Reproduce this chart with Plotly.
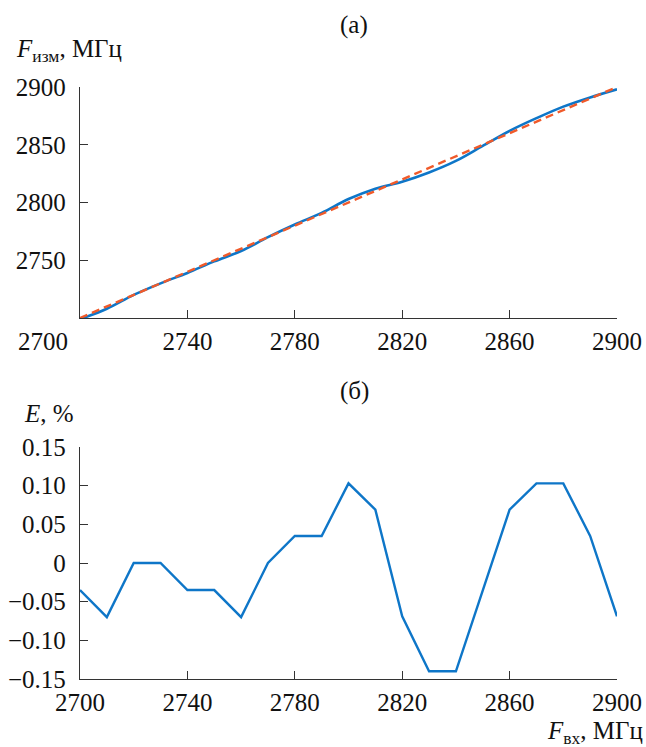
import plotly.graph_objects as go

# ---- data ----
f_in = [2700, 2710, 2720, 2730, 2740, 2750, 2760, 2770, 2780, 2790, 2800,
        2810, 2820, 2830, 2840, 2850, 2860, 2870, 2880, 2890, 2900]
f_meas = [2699, 2708, 2720, 2730, 2739, 2749, 2758, 2770, 2781, 2791, 2803,
          2812, 2818, 2826, 2836, 2849, 2862, 2873, 2883, 2891, 2898]
f_ideal = [2700, 2900]
f_ideal_x = [2700, 2900]
err = [-0.035, -0.07, 0.0, 0.0, -0.035, -0.035, -0.07, 0.0, 0.035, 0.035, 0.103,
       0.069, -0.069, -0.14, -0.14, -0.035, 0.069, 0.103, 0.103, 0.035, -0.069]

x_ticks = [2700, 2740, 2780, 2820, 2860, 2900]
y1_ticks = [2750, 2800, 2850, 2900]
y2_ticks = [0.15, 0.10, 0.05, 0, -0.05, -0.10, -0.15]
y2_text = ["0.15", "0.10", "0.05", "0", "\u22120.05", "\u22120.10", "\u22120.15"]

BLUE = "#0E76C8"
RED = "#F05A2A"
AX = "#333333"
FONT = "Liberation Serif"
FS = 25

W, H = 646, 747
L, T = 80, 87
PW, PH = 537, 592
R, B = W - L - PW, H - T - PH


def px(xp):
    return (xp - L) / PW


def py(yp):
    return (T + PH - yp) / PH


fig = go.Figure()
fig.add_trace(go.Scatter(x=f_in, y=f_meas, mode="lines", line=dict(color=BLUE, width=2.6, shape="spline", smoothing=1.0),
                         xaxis="x", yaxis="y", showlegend=False, hoverinfo="skip"))
fig.add_trace(go.Scatter(x=f_ideal_x, y=f_ideal, mode="lines", line=dict(color=RED, width=2.4, dash="8px,5px"),
                         xaxis="x", yaxis="y", showlegend=False, hoverinfo="skip"))
fig.add_trace(go.Scatter(x=f_in, y=err, mode="lines", line=dict(color=BLUE, width=2.4),
                         xaxis="x2", yaxis="y2", showlegend=False, hoverinfo="skip"))

axis_common = dict(showline=True, linecolor=AX, linewidth=1.4, ticks="inside", ticklen=8,
                   tickwidth=1.3, tickcolor=AX, showgrid=False, zeroline=False, automargin=False,
                   tickfont=dict(family=FONT, size=FS, color="#111"))

top_dom = [py(318), 1.0]
bot_dom = [0.0, py(447)]

fig.update_layout(
    width=W, height=H,
    margin=dict(l=L, r=R, t=T, b=B, autoexpand=False),
    paper_bgcolor="white", plot_bgcolor="white",
    font=dict(family=FONT, size=FS, color="#111"),
    hovermode=False,
    xaxis=dict(domain=[0, 1], range=[2700, 2900], anchor="y", tickvals=x_ticks[1:],
               ticktext=[str(v) for v in x_ticks[1:]], ticklabelstandoff=1, **axis_common),
    yaxis=dict(domain=top_dom, range=[2700, 2900], anchor="x", tickvals=y1_ticks,
               ticktext=[str(v) for v in y1_ticks], ticklabelstandoff=8, **axis_common),
    xaxis2=dict(domain=[0, 1], range=[2700, 2900], anchor="y2", tickvals=x_ticks,
                ticktext=[str(v) for v in x_ticks], ticklabelstandoff=1, **axis_common),
    yaxis2=dict(domain=bot_dom, range=[-0.15, 0.15], anchor="x2", tickvals=y2_ticks,
                ticktext=y2_text, ticklabelstandoff=8, **axis_common),
)

ann = [
    dict(text="(а)", x=px(354), y=py(25), xanchor="center", yanchor="middle"),
    dict(text="<i>F</i><sub>изм</sub>, МГц", x=px(14), y=py(50), xanchor="left", yanchor="middle"),
    dict(text="(б)", x=px(354), y=py(391), xanchor="center", yanchor="middle"),
    dict(text="<i>E</i>, %", x=px(22), y=py(413), xanchor="left", yanchor="middle"),
    dict(text="<i>F</i><sub>вх</sub>, МГц", x=px(645), y=py(732), xanchor="right", yanchor="middle"),
    dict(text=str(x_ticks[0]), x=px(70), y=py(341), xanchor="right", yanchor="middle"),
]
for a in ann:
    a.update(xref="paper", yref="paper", showarrow=False, font=dict(family=FONT, size=FS, color="#111"))
    fig.add_annotation(**a)

fig.write_html("out.html", config={"displayModeBar": False},
               post_script="document.body.style.margin='0';document.documentElement.style.overflow='hidden';")
